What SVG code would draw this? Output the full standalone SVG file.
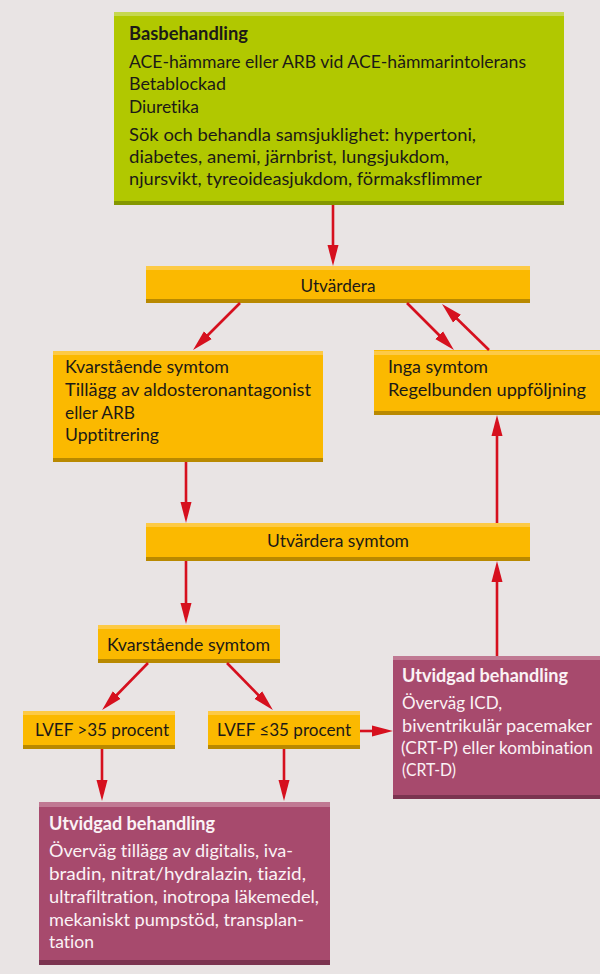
<svg xmlns="http://www.w3.org/2000/svg" width="600" height="974" viewBox="0 0 600 974">
<defs>
<style>
.t{font-family:Lato,"Open Sans","Liberation Sans",sans-serif;font-size:18px;fill:#1c1a17;font-variant-ligatures:none;font-feature-settings:"liga" 0,"dlig" 0}
.w{fill:#fbf2f5}
.b{font-weight:bold}
.c{stroke:#d6101e;stroke-width:2.6;fill:none;marker-end:url(#ah)}
.gr{fill:#b1c800}.grl{fill:#c6d850}.grd{fill:#849700}
.or{fill:#fbb900}.orl{fill:#fdca45}.ord{fill:#b98900}
.mg{fill:#a74a6d}.mgl{fill:#c07993}.mgd{fill:#7b3450}
</style>
<marker id="ah" markerUnits="userSpaceOnUse" markerWidth="22" markerHeight="12" viewBox="0 0 22 12" refX="14" refY="6" orient="auto">
<path d="M0,0.5 L21,6 L0,11.5 z" fill="#d6101e"/>
</marker>
</defs>
<rect x="0" y="0" width="600" height="974" fill="#e9e4e4"/>

<g id="basbehandling">
<rect class="gr" x="114" y="12" width="450" height="193"/>
<rect class="grl" x="114" y="12" width="450" height="4"/>
<rect class="grd" x="114" y="201" width="450" height="4"/>
<text class="t b" x="129" y="40" textLength="119" lengthAdjust="spacingAndGlyphs">Basbehandling</text>
<text class="t" x="129" y="67.5" textLength="397" lengthAdjust="spacingAndGlyphs">ACE-hämmare eller ARB vid ACE-hämmarintolerans</text>
<text class="t" x="129" y="90" textLength="97" lengthAdjust="spacingAndGlyphs">Betablockad</text>
<text class="t" x="129" y="112.5" textLength="70" lengthAdjust="spacingAndGlyphs">Diuretika</text>
<text class="t" x="129" y="141" textLength="347" lengthAdjust="spacingAndGlyphs">Sök och behandla samsjuklighet: hypertoni,</text>
<text class="t" x="129" y="163" textLength="320" lengthAdjust="spacingAndGlyphs">diabetes, anemi, järnbrist, lungsjukdom,</text>
<text class="t" x="129" y="185" textLength="353" lengthAdjust="spacingAndGlyphs">njursvikt, tyreoideasjukdom, förmaksflimmer</text>
</g>

<g id="utvardera">
<rect class="or" x="146" y="266" width="384" height="37"/>
<rect class="orl" x="146" y="266" width="384" height="4"/>
<rect class="ord" x="146" y="299" width="384" height="4"/>
<text class="t" x="338" y="291.5" text-anchor="middle" textLength="75" lengthAdjust="spacingAndGlyphs">Utvärdera</text>
</g>

<g id="kvarstaende1">
<rect class="or" x="53" y="351" width="270" height="111"/>
<rect class="orl" x="53" y="351" width="270" height="4"/>
<rect class="ord" x="53" y="458" width="270" height="4"/>
<text class="t" x="65" y="373" textLength="164" lengthAdjust="spacingAndGlyphs">Kvarstående symtom</text>
<text class="t" x="65" y="396" textLength="246" lengthAdjust="spacingAndGlyphs">Tillägg av aldosteronantagonist</text>
<text class="t" x="65" y="418.5" textLength="70" lengthAdjust="spacingAndGlyphs">eller ARB</text>
<text class="t" x="65" y="441" textLength="94" lengthAdjust="spacingAndGlyphs">Upptitrering</text>
</g>

<g id="inga">
<rect class="or" x="374" y="350" width="226" height="65"/>
<rect class="orl" x="374" y="351" width="226" height="4"/>
<rect class="ord" x="374" y="411" width="226" height="4"/>
<text class="t" x="388" y="373" textLength="100" lengthAdjust="spacingAndGlyphs">Inga symtom</text>
<text class="t" x="388" y="396" textLength="198" lengthAdjust="spacingAndGlyphs">Regelbunden uppföljning</text>
</g>

<g id="utvardera-symtom">
<rect class="or" x="146" y="523" width="384" height="38"/>
<rect class="orl" x="146" y="523" width="384" height="4"/>
<rect class="ord" x="146" y="557" width="384" height="4"/>
<text class="t" x="338" y="547" text-anchor="middle" textLength="142" lengthAdjust="spacingAndGlyphs">Utvärdera symtom</text>
</g>

<g id="kvarstaende2">
<rect class="or" x="98" y="625" width="182" height="38"/>
<rect class="orl" x="98" y="625" width="182" height="4"/>
<rect class="ord" x="98" y="659" width="182" height="4"/>
<text class="t" x="107" y="651" textLength="163" lengthAdjust="spacingAndGlyphs">Kvarstående symtom</text>
</g>

<g id="lvef-over">
<rect class="or" x="23" y="711" width="152" height="38"/>
<rect class="orl" x="23" y="711" width="152" height="4"/>
<rect class="ord" x="23" y="745" width="152" height="4"/>
<text class="t" x="35" y="736" textLength="134" lengthAdjust="spacingAndGlyphs">LVEF &gt;35 procent</text>
</g>

<g id="lvef-under">
<rect class="or" x="208" y="711" width="152" height="38"/>
<rect class="orl" x="208" y="711" width="152" height="4"/>
<rect class="ord" x="208" y="745" width="152" height="4"/>
<text class="t" x="217" y="736" textLength="134" lengthAdjust="spacingAndGlyphs">LVEF ≤35 procent</text>
</g>

<g id="utvidgad-right">
<rect class="mg" x="393" y="656" width="207" height="143"/>
<rect class="mgl" x="393" y="656" width="207" height="4"/>
<rect class="mgd" x="393" y="795" width="207" height="4"/>
<text class="t b w" x="402" y="682" textLength="166" lengthAdjust="spacingAndGlyphs">Utvidgad behandling</text>
<text class="t w" x="402" y="709" textLength="100" lengthAdjust="spacingAndGlyphs">Överväg ICD,</text>
<text class="t w" x="402" y="732" textLength="190" lengthAdjust="spacingAndGlyphs">biventrikulär pacemaker</text>
<text class="t w" x="401" y="754" textLength="192" lengthAdjust="spacingAndGlyphs">(CRT-P) eller kombination</text>
<text class="t w" x="402" y="776" textLength="54" lengthAdjust="spacingAndGlyphs">(CRT-D)</text>
</g>

<g id="utvidgad-bottom">
<rect class="mg" x="39" y="802" width="291" height="163"/>
<rect class="mgl" x="39" y="802" width="291" height="5"/>
<rect class="mgd" x="39" y="960" width="291" height="5"/>
<text class="t b w" x="49" y="830" textLength="166" lengthAdjust="spacingAndGlyphs">Utvidgad behandling</text>
<text class="t w" x="49" y="857" textLength="244" lengthAdjust="spacingAndGlyphs">Överväg tillägg av digitalis, iva-</text>
<text class="t w" x="49" y="880" textLength="257" lengthAdjust="spacingAndGlyphs">bradin, nitrat/hydralazin, tiazid,</text>
<text class="t w" x="49" y="903" textLength="270" lengthAdjust="spacingAndGlyphs">ultrafiltration, inotropa läkemedel,</text>
<text class="t w" x="49" y="926" textLength="255" lengthAdjust="spacingAndGlyphs">mekaniskt pumpstöd, transplan-</text>
<text class="t w" x="49" y="948" textLength="45" lengthAdjust="spacingAndGlyphs">tation</text>
</g>

<g id="connectors">
<line class="c" x1="333" y1="205" x2="333" y2="259"/>
<line class="c" x1="240" y1="303" x2="198" y2="345"/>
<line class="c" x1="407" y1="303" x2="449" y2="345"/>
<line class="c" x1="489" y1="350" x2="447" y2="309"/>
<line class="c" x1="186" y1="462" x2="186" y2="516"/>
<line class="c" x1="186" y1="561" x2="186" y2="617"/>
<line class="c" x1="148" y1="663" x2="107" y2="705"/>
<line class="c" x1="227" y1="663" x2="268" y2="705"/>
<line class="c" x1="102" y1="749" x2="102" y2="794"/>
<line class="c" x1="284" y1="749" x2="284" y2="794"/>
<line class="c" x1="360" y1="731" x2="386" y2="731"/>
<line class="c" x1="497" y1="656" x2="497" y2="568"/>
<line class="c" x1="497" y1="523" x2="497" y2="422"/>
</g>
</svg>
